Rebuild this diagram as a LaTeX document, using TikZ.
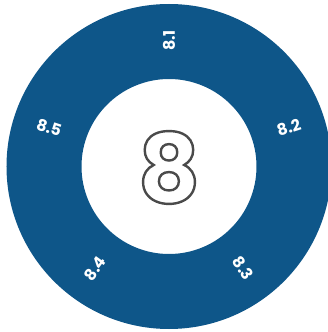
\documentclass[tikz,border=0pt]{standalone}
\usepackage{fontspec}
\setmainfont{Poppins}[BoldFont={Poppins Bold}]
\usepackage{tikz}
\definecolor{ringblue}{HTML}{0E5689}
\newcommand{\outlinetext}[1]{\special{pdf:literal direct 1 Tr 2.4 w 0.29 0.29 0.29 RG}#1\special{pdf:literal direct 0 Tr}}

\begin{document}
\begin{tikzpicture}[
  x=1pt, y=1pt,
  ring/.style={fill=ringblue, even odd rule},
  seclabel/.style={text=white, font=\bfseries\fontsize{16}{16}\selectfont, inner sep=1pt},
  bignum/.style={font=\bfseries\fontsize{96}{96}\selectfont, inner sep=0pt}
]
  \useasboundingbox (-169,-165.5) rectangle (158,166.5);
  \coordinate (c) at (0,0);
  \fill[ring] (c) circle (162.5) (c) circle (87.5);

  % section labels round the ring
  \foreach \i/\a/\r in {1/90/90, 2/18/18, 3/-54/-54, 4/-126/54, 5/162/-18}
    \node[seclabel, rotate=\r] (s\i) at (\a:126) {8.\i};

  \node[bignum] (chap) at (0,-1) {\outlinetext{8}};
\end{tikzpicture}
\end{document}
